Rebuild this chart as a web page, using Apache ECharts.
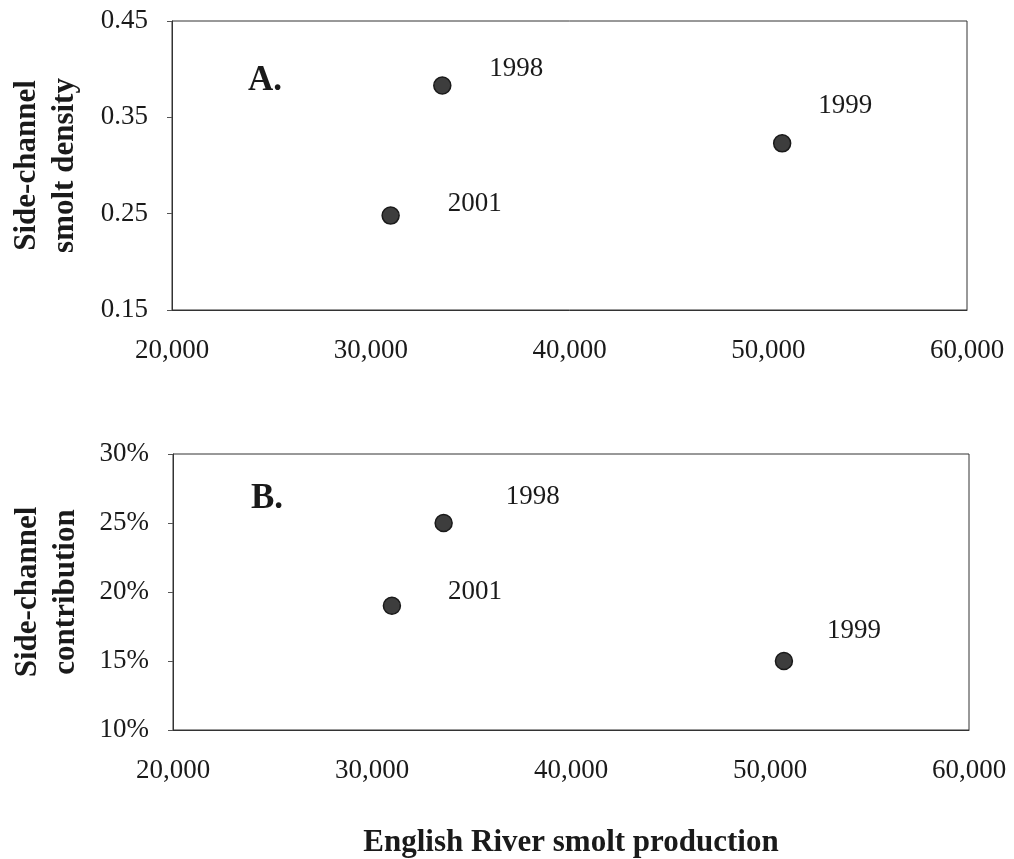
<!DOCTYPE html>
<html>
<head>
<meta charset="utf-8">
<script src="https://cdn.jsdelivr.net/npm/echarts@6/dist/echarts.min.js"></script>
<style>
html,body{margin:0;padding:0;background:#fff;}
#c{width:1014px;height:859px;}
</style>
</head>
<body>
<div id="c"></div>
<script>
// ---- data ----
const years = ['1998', '1999', '2001'];
const production = [33600, 50700, 31000];
const density = [0.383, 0.323, 0.248];
const contribution = [25, 15, 19];
const xTicks = [20000, 30000, 40000, 50000, 60000];
const densityTicks = [0.15, 0.25, 0.35, 0.45];
const contributionTicks = [10, 15, 20, 25, 30];

// ---- label nudges (styling only) ----
const nudgeA = { '1998': [74, -17], '1999': [63, -37], '2001': [84, -12] };
const nudgeB = { '1998': [89, -26], '1999': [70, -30], '2001': [83, -14] };

const FONT = "'Liberation Serif', 'Times New Roman', serif";
const INK = '#1a1a1a';

function pts(yvals, nudge) {
  return years.map((y, i) => ({
    name: y,
    value: [production[i], yvals[i]],
    label: { offset: nudge[y] }
  }));
}

function xAxisCfg(gridIndex, withName) {
  const o = {
    type: 'value', gridIndex: gridIndex,
    min: xTicks[0], max: xTicks[xTicks.length - 1], interval: 10000,
    axisLine: { show: true, lineStyle: { color: '#333', width: 1 } },
    axisTick: { show: false },
    splitLine: { show: false },
    axisLabel: {
      customValues: xTicks,
      formatter: v => Number(v).toLocaleString('en-US'),
      fontFamily: FONT, fontSize: 27, color: INK, margin: 27
    }
  };
  if (withName) {
    o.name = 'English River smolt production';
    o.nameLocation = 'middle';
    o.nameGap = 97;
    o.nameTextStyle = { fontFamily: FONT, fontSize: 31, fontWeight: 'bold', color: INK };
  }
  return o;
}

function yAxisCfg(gridIndex, ticks, interval, fmt, name) {
  return {
    type: 'value', gridIndex: gridIndex,
    min: ticks[0], max: ticks[ticks.length - 1], interval: interval,
    axisLine: { show: true, lineStyle: { color: '#333', width: 1 } },
    axisTick: { show: true, inside: false, length: 5, customValues: ticks, lineStyle: { color: '#555' } },
    splitLine: { show: false },
    axisLabel: {
      customValues: ticks, formatter: fmt,
      fontFamily: FONT, fontSize: 27, color: INK, margin: 24
    },
    name: name, nameLocation: 'middle', nameRotate: 90, nameGap: 88,
    nameTextStyle: { fontFamily: FONT, fontSize: 31, fontWeight: 'bold', color: INK, lineHeight: 38, align: 'center' }
  };
}

const seriesStyle = {
  type: 'scatter', symbol: 'circle', symbolSize: 17,
  itemStyle: { color: '#3d3d3d', borderColor: '#1a1a1a', borderWidth: 1.5, opacity: 1 },
  label: {
    show: true, position: 'inside', formatter: '{b}',
    fontFamily: FONT, fontSize: 27, color: INK
  },
  emphasis: { disabled: true }
};

const chart = echarts.init(document.getElementById('c'), null, { renderer: 'canvas' });
chart.setOption({
  animation: false,
  backgroundColor: '#fff',
  grid: [
    { left: 172, top: 21, width: 795, height: 289, show: true, borderColor: '#333', borderWidth: 1 },
    { left: 173, top: 454, width: 796, height: 277, show: true, borderColor: '#333', borderWidth: 1 }
  ],
  xAxis: [xAxisCfg(0, false), xAxisCfg(1, true)],
  yAxis: [
    yAxisCfg(0, densityTicks, 0.1, v => Number(v).toFixed(2), 'Side-channel\nsmolt density'),
    yAxisCfg(1, contributionTicks, 5, v => Math.round(v) + '%', 'Side-channel\ncontribution')
  ],
  graphic: [
    { type: 'text', left: 248, top: 63, style: { text: 'A.', font: "bold 35px 'Liberation Serif', serif", fill: INK } },
    { type: 'text', left: 251, top: 481, style: { text: 'B.', font: "bold 35px 'Liberation Serif', serif", fill: INK } }
  ],
  series: [
    Object.assign({}, seriesStyle, { xAxisIndex: 0, yAxisIndex: 0, data: pts(density, nudgeA) }),
    Object.assign({}, seriesStyle, { xAxisIndex: 1, yAxisIndex: 1, data: pts(contribution, nudgeB) })
  ]
});
</script>
</body>
</html>
